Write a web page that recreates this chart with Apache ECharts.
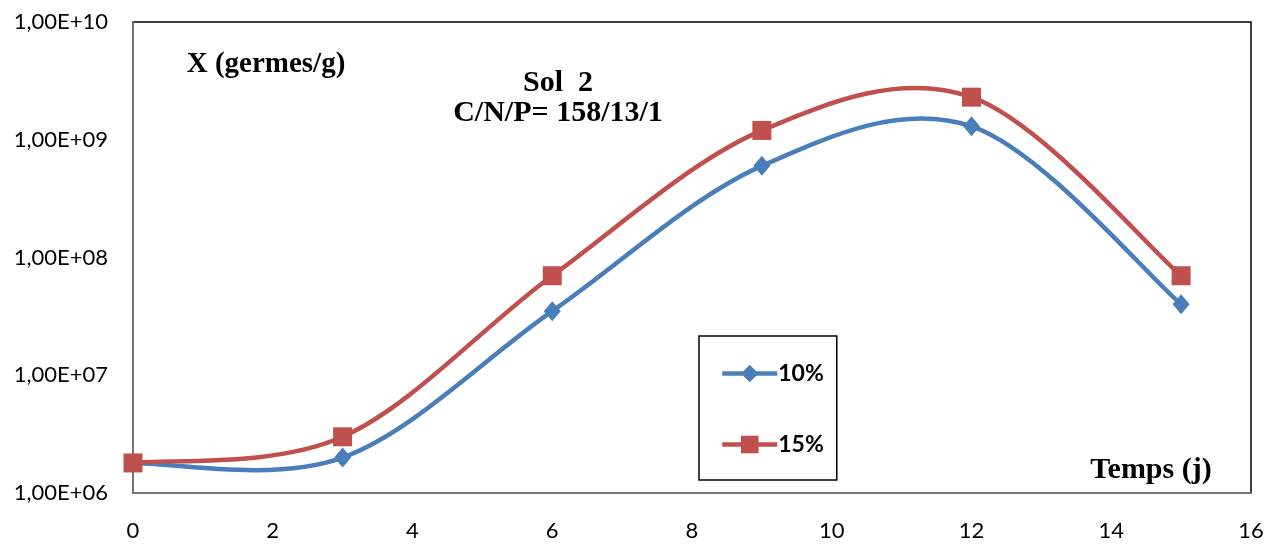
<!DOCTYPE html>
<html>
<head>
<meta charset="utf-8">
<script src="https://cdn.jsdelivr.net/npm/echarts@6/dist/echarts.min.js"></script>
<style>html,body{margin:0;padding:0;background:#fff}#c{width:1284px;height:549px}</style>
</head>
<body>
<div id="c"></div>
<script>
var days = [0, 3, 6, 9, 12, 15];
var seriesNames = ['10%', '15%'];
var values10 = [1.8e6, 2.0e6, 3.5e7, 6.0e8, 1.3e9, 4.0e7];
var values15 = [1.8e6, 3.0e6, 7.0e7, 1.2e9, 2.3e9, 7.0e7];
var yAxisName = 'X (germes/g)';
var xAxisName = 'Temps (j)';
var chartTitle = 'Sol  2\nC/N/P= 158/13/1';
var colors = ['#4A7EBB', '#C0504D'];

function pairs(v) { return days.map(function (d, i) { return [d, v[i]]; }); }
function fmtExp(v) {
  var e = Math.round(Math.log10(v));
  var m = v / Math.pow(10, e);
  return m.toFixed(2).replace('.', ',') + 'E+' + (e < 10 ? '0' + e : e);
}
// Excel-like smoothed curve: cardinal spline segments computed in pixel space
function curveRenderer(vals, color) {
  return function (params, api) {
    var i = params.dataIndex, n = days.length;
    if (i >= n - 1) return null;
    var P = function (k) { k = Math.max(0, Math.min(n - 1, k)); return api.coord([days[k], vals[k]]); };
    var p0 = P(i - 1), p1 = P(i), p2 = P(i + 1), p3 = P(i + 2);
    var t = 1 / 6;
    return {
      type: 'bezierCurve',
      shape: {
        x1: p1[0], y1: p1[1], x2: p2[0], y2: p2[1],
        cpx1: p1[0] + (p2[0] - p0[0]) * t, cpy1: p1[1] + (p2[1] - p0[1]) * t,
        cpx2: p2[0] - (p3[0] - p1[0]) * t, cpy2: p2[1] - (p3[1] - p1[1]) * t
      },
      style: { stroke: color, lineWidth: 4.5, fill: null, lineCap: 'round' }
    };
  };
}

var chart = echarts.init(document.getElementById('c'));
chart.setOption({
  animation: false,
  backgroundColor: '#fff',
  title: [
    { text: yAxisName, left: 261, top: 60, textAlign: 'center', textVerticalAlign: 'middle',
      textStyle: { fontFamily: 'Liberation Serif', fontWeight: 'bold', fontSize: 29, color: '#000' } },
    { text: chartTitle, left: 553, top: 63, textAlign: 'center',
      textStyle: { fontFamily: 'Liberation Serif', fontWeight: 'bold', fontSize: 30, color: '#000', lineHeight: 30 } },
    { text: xAxisName, left: 1146, top: 465, textAlign: 'center', textVerticalAlign: 'middle',
      textStyle: { fontFamily: 'Liberation Serif', fontWeight: 'bold', fontSize: 30, color: '#000' } }
  ],
  grid: { left: 133, right: 33, top: 22, bottom: 56, show: true, borderColor: '#000', borderWidth: 1.5, backgroundColor: 'transparent' },
  legend: {
    orient: 'vertical', left: 699, top: 336,
    padding: [26, 13, 24, 21], itemGap: 48, itemWidth: 55, itemHeight: 22,
    borderColor: '#000', borderWidth: 1.5, backgroundColor: '#fff',
    data: seriesNames,
    lineStyle: { width: 4.5, opacity: 1 },
    textStyle: { fontFamily: 'Lato', fontWeight: 'bold', fontSize: 23, color: '#000', padding: [0, 0, 0, -4] }
  },
  xAxis: {
    type: 'value', min: 0, max: 16, interval: 2,
    axisLine: { show: true, lineStyle: { color: '#868686', width: 1.5 } },
    axisTick: { show: false }, splitLine: { show: false },
    axisLabel: { fontFamily: 'Lato', fontSize: 22, color: '#000', margin: 27 }
  },
  yAxis: {
    type: 'log', logBase: 10, min: 1e6, max: 1e10,
    axisLine: { show: true, lineStyle: { color: '#868686', width: 1.5 } },
    axisTick: { show: false }, splitLine: { show: false }, minorTick: { show: false },
    axisLabel: { fontFamily: 'Lato', fontSize: 22, color: '#000', margin: 25, formatter: fmtExp }
  },
  series: [
    { name: seriesNames[0] + ' courbe', type: 'custom', data: pairs(values10),
      renderItem: curveRenderer(values10, colors[0]), z: 2, silent: true },
    { name: seriesNames[1] + ' courbe', type: 'custom', data: pairs(values15),
      renderItem: curveRenderer(values15, colors[1]), z: 2, silent: true },
    { name: seriesNames[0], type: 'line', data: pairs(values10),
      symbol: 'diamond', symbolSize: [17, 20],
      lineStyle: { color: colors[0], width: 4.5, opacity: 0 }, itemStyle: { color: colors[0] }, z: 5 },
    { name: seriesNames[1], type: 'line', data: pairs(values15),
      symbol: 'rect', symbolSize: 19,
      lineStyle: { color: colors[1], width: 4.5, opacity: 0 }, itemStyle: { color: colors[1] }, z: 6 }
  ]
});
</script>
</body>
</html>
